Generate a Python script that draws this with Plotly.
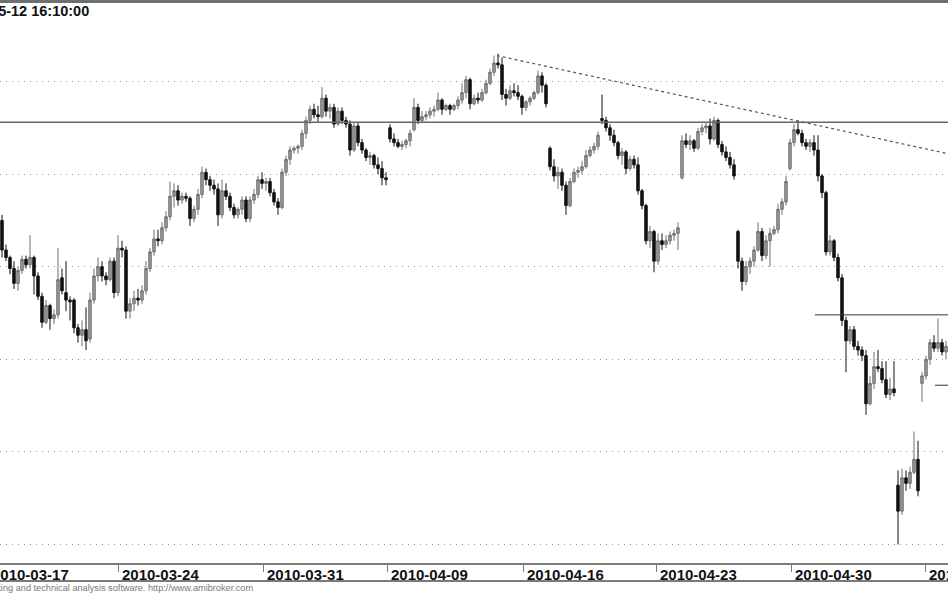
import plotly.graph_objects as go

# ---- data (hourly OHLC, price units) ----
opens = [
    2475, 2459, 2455, 2449, 2441, 2448, 2454, 2451, 2455, 2445,
    2434, 2420, 2429, 2422, 2424, 2444, 2436, 2432, 2432, 2417,
    2413, 2416, 2411, 2432, 2445, 2450, 2445, 2443, 2453, 2436,
    2460, 2459, 2426, 2430, 2433, 2432, 2437, 2449, 2458, 2465,
    2464, 2471, 2477, 2488, 2491, 2486, 2488, 2487, 2476, 2481,
    2489, 2501, 2497, 2494, 2492, 2478, 2491, 2488, 2482, 2478,
    2481, 2486, 2476, 2486, 2489, 2497, 2495, 2496, 2490, 2485,
    2482, 2501, 2508, 2513, 2514, 2515, 2522, 2529, 2535, 2532,
    2531, 2541, 2534, 2536, 2527, 2534, 2529, 2527, 2513, 2526,
    2517, 2513, 2509, 2510, 2505, 2503, 2498, 2525, 2519, 2517,
    2515, 2516, 2518, 2524, 2536, 2529, 2531, 2532, 2534, 2535,
    2540, 2535, 2537, 2535, 2537, 2540, 2544, 2551, 2538, 2541,
    2540, 2544, 2549, 2555, 2560, 2559, 2543, 2541, 2545, 2544,
    2542, 2536, 2539, 2541, 2544, 2553, 2548, 2514, 2504, 2499,
    2501, 2494, 2483, 2496, 2501, 2502, 2504, 2510, 2513, 2515,
    2530, 2529, 2525, 2521, 2517, 2510, 2512, 2503, 2508, 2505,
    2491, 2483, 2464, 2469, 2453, 2464, 2462, 2464, 2467, 2468,
    2498, 2518, 2516, 2518, 2514, 2523, 2525, 2526, 2519, 2529,
    2516, 2512, 2509, 2505, 2469, 2453, 2442, 2450, 2453, 2459,
    2469, 2456, 2464, 2468, 2470, 2481, 2485, 2503, 2517, 2524,
    2522, 2517, 2515, 2517, 2513, 2499, 2490, 2458, 2464, 2455,
    2444, 2421, 2410, 2416, 2407, 2405, 2402, 2376, 2387, 2396,
    2395, 2389, 2381, 2384, 2332, 2318, 2336, 2333, 2339, 2346,
    2387, 2391, 2400, 2409, 2406, 2409, 2404,
]
highs = [
    2478, 2462, 2456, 2453, 2450, 2456, 2456, 2467, 2456, 2447,
    2436, 2432, 2430, 2427, 2460, 2449, 2453, 2434, 2433, 2419,
    2421, 2428, 2436, 2449, 2455, 2453, 2447, 2455, 2455, 2467,
    2464, 2461, 2433, 2437, 2438, 2440, 2453, 2460, 2470, 2470,
    2474, 2480, 2496, 2495, 2494, 2490, 2490, 2488, 2483, 2492,
    2504, 2503, 2499, 2497, 2495, 2497, 2495, 2490, 2484, 2482,
    2488, 2488, 2488, 2492, 2499, 2501, 2498, 2498, 2492, 2487,
    2503, 2510, 2515, 2515, 2516, 2524, 2531, 2537, 2538, 2537,
    2547, 2543, 2538, 2538, 2536, 2536, 2531, 2529, 2528, 2528,
    2519, 2514, 2512, 2511, 2509, 2507, 2501, 2527, 2522, 2519,
    2518, 2519, 2524, 2541, 2538, 2534, 2534, 2536, 2537, 2544,
    2541, 2538, 2538, 2538, 2542, 2549, 2553, 2552, 2543, 2544,
    2546, 2551, 2557, 2564, 2565, 2563, 2546, 2548, 2549, 2548,
    2543, 2540, 2542, 2545, 2556, 2555, 2549, 2515, 2508, 2504,
    2503, 2496, 2498, 2503, 2504, 2507, 2513, 2515, 2517, 2523,
    2543, 2531, 2527, 2524, 2518, 2514, 2513, 2510, 2510, 2509,
    2492, 2484, 2472, 2470, 2468, 2468, 2467, 2469, 2470, 2474,
    2521, 2522, 2521, 2519, 2525, 2527, 2528, 2530, 2531, 2530,
    2518, 2515, 2512, 2508, 2470, 2455, 2453, 2455, 2461, 2474,
    2471, 2467, 2471, 2472, 2484, 2487, 2499, 2519, 2527, 2529,
    2524, 2519, 2519, 2521, 2521, 2500, 2491, 2467, 2465, 2457,
    2446, 2423, 2418, 2418, 2410, 2407, 2405, 2391, 2404, 2405,
    2399, 2399, 2390, 2399, 2340, 2341, 2340, 2342, 2361, 2356,
    2393, 2402, 2411, 2413, 2422, 2411, 2410,
]
lows = [
    2455, 2453, 2446, 2438, 2437, 2446, 2449, 2449, 2435, 2432,
    2417, 2419, 2416, 2419, 2422, 2435, 2426, 2421, 2414, 2409,
    2407, 2405, 2409, 2430, 2442, 2442, 2440, 2442, 2433, 2434,
    2455, 2422, 2422, 2426, 2429, 2430, 2435, 2447, 2456, 2461,
    2462, 2469, 2475, 2482, 2483, 2484, 2485, 2472, 2474, 2478,
    2487, 2494, 2491, 2489, 2472, 2476, 2486, 2480, 2476, 2476,
    2478, 2474, 2474, 2484, 2487, 2492, 2491, 2488, 2483, 2478,
    2481, 2499, 2505, 2511, 2511, 2513, 2519, 2527, 2530, 2528,
    2530, 2531, 2530, 2525, 2526, 2527, 2525, 2510, 2512, 2515,
    2511, 2507, 2505, 2503, 2500, 2494, 2494, 2517, 2515, 2514,
    2513, 2514, 2515, 2523, 2527, 2528, 2529, 2530, 2531, 2534,
    2532, 2534, 2532, 2534, 2535, 2538, 2541, 2535, 2537, 2538,
    2539, 2543, 2548, 2553, 2557, 2540, 2537, 2540, 2542, 2540,
    2532, 2534, 2537, 2540, 2543, 2544, 2536, 2502, 2496, 2492,
    2491, 2478, 2482, 2495, 2498, 2500, 2503, 2509, 2511, 2513,
    2527, 2523, 2518, 2515, 2508, 2505, 2500, 2502, 2503, 2489,
    2481, 2462, 2460, 2447, 2451, 2459, 2460, 2462, 2464, 2459,
    2497, 2514, 2513, 2512, 2513, 2521, 2522, 2516, 2518, 2514,
    2510, 2507, 2503, 2497, 2449, 2437, 2440, 2446, 2450, 2458,
    2453, 2454, 2450, 2467, 2468, 2478, 2483, 2502, 2515, 2521,
    2515, 2513, 2512, 2510, 2496, 2487, 2456, 2456, 2453, 2442,
    2418, 2393, 2408, 2405, 2402, 2399, 2370, 2375, 2384, 2393,
    2387, 2379, 2378, 2380, 2300, 2316, 2329, 2330, 2338, 2326,
    2377, 2389, 2397, 2404, 2404, 2402, 2400,
]
closes = [
    2459, 2455, 2449, 2441, 2448, 2454, 2451, 2455, 2445, 2434,
    2420, 2429, 2422, 2424, 2443, 2437, 2432, 2431, 2417, 2413,
    2416, 2410, 2432, 2445, 2450, 2445, 2443, 2453, 2436, 2460,
    2459, 2426, 2430, 2433, 2432, 2437, 2449, 2458, 2465, 2464,
    2471, 2477, 2488, 2491, 2486, 2488, 2487, 2476, 2481, 2489,
    2501, 2497, 2494, 2492, 2478, 2491, 2488, 2482, 2478, 2481,
    2486, 2476, 2486, 2489, 2497, 2495, 2496, 2490, 2485, 2482,
    2501, 2508, 2513, 2514, 2515, 2522, 2529, 2535, 2532, 2531,
    2541, 2534, 2536, 2527, 2534, 2529, 2527, 2513, 2526, 2517,
    2513, 2509, 2510, 2505, 2503, 2498, 2497, 2519, 2517, 2515,
    2516, 2518, 2522, 2536, 2529, 2531, 2532, 2534, 2535, 2540,
    2535, 2537, 2535, 2537, 2540, 2544, 2551, 2538, 2541, 2540,
    2544, 2549, 2555, 2560, 2559, 2543, 2541, 2545, 2544, 2542,
    2536, 2539, 2541, 2544, 2553, 2548, 2538, 2504, 2499, 2501,
    2494, 2483, 2496, 2501, 2502, 2504, 2510, 2513, 2515, 2521,
    2529, 2525, 2521, 2517, 2510, 2512, 2503, 2508, 2505, 2491,
    2483, 2464, 2469, 2453, 2464, 2462, 2464, 2467, 2468, 2471,
    2518, 2516, 2518, 2514, 2523, 2525, 2526, 2519, 2529, 2516,
    2512, 2509, 2505, 2499, 2453, 2442, 2450, 2453, 2459, 2469,
    2456, 2464, 2468, 2470, 2481, 2485, 2496, 2517, 2524, 2522,
    2517, 2515, 2517, 2513, 2499, 2490, 2458, 2464, 2455, 2444,
    2421, 2410, 2416, 2407, 2405, 2402, 2376, 2387, 2396, 2395,
    2389, 2381, 2384, 2382, 2318, 2336, 2333, 2339, 2346, 2329,
    2391, 2400, 2409, 2406, 2409, 2404, 2407,
]

# date labels and the bar positions where each new week starts
tick_labels = ["2010-03-17", "2010-03-24", "2010-03-31", "2010-04-09",
               "2010-04-16", "2010-04-23", "2010-04-30", "2010-05-07"]
tick_positions = [-3.5, 29, 65.25, 96.25, 130.25, 163.5, 197.25, 230.75]

# drawn study lines (bar index, price)
resistance_level = 2528
trend_start = (123.75, 2564)
trend_end = (236.5, 2511)
support_level = 2424
support_start = 203.25
short_level = 2386
short_start = 233.25

title_text = "2010-05-12 16:10:00"
footer_text = "AmiBroker - advanced charting and technical analysis software. http://www.amibroker.com"

# ---- figure ----
n = len(closes)
xs = list(range(n))
X0, X1 = -0.5, n - 0.5
W, H = 948, 593
T, B = 3, 30
plot_h = H - T - B

fig = go.Figure(go.Candlestick(
    x=xs, open=opens, high=highs, low=lows, close=closes,
    increasing=dict(line=dict(color="#6e6e6e", width=1), fillcolor="#9c9c9c"),
    decreasing=dict(line=dict(color="#111111", width=1), fillcolor="#111111"),
    showlegend=False, hoverinfo="skip",
))

font_main = "Liberation Sans, Arial, sans-serif"

shapes = [
    dict(type="line", xref="paper", yref="y", x0=0, x1=1,
         y0=resistance_level, y1=resistance_level,
         line=dict(color="#666666", width=1.5)),
    dict(type="line", xref="x", yref="y", x0=trend_start[0], y0=trend_start[1],
         x1=trend_end[0], y1=trend_end[1],
         line=dict(color="#555555", width=1.2, dash="3px,3px")),
    dict(type="line", xref="x", yref="y", x0=support_start, x1=X1,
         y0=support_level, y1=support_level,
         line=dict(color="#333333", width=1)),
    dict(type="line", xref="x", yref="y", x0=short_start, x1=X1,
         y0=short_level, y1=short_level,
         line=dict(color="#333333", width=1)),
    dict(type="line", xref="paper", yref="paper", x0=0, x1=1,
         y0=1 + 1.5 / plot_h, y1=1 + 1.5 / plot_h,
         line=dict(color="#6f6f6f", width=3)),
    dict(type="line", xref="paper", yref="paper", x0=0, x1=1,
         y0=-18 / plot_h, y1=-18 / plot_h,
         line=dict(color="#7a7a7a", width=2)),
]

annotations = []
for lab, pos in zip(tick_labels, tick_positions):
    annotations.append(dict(
        text=lab, xref="paper", yref="paper",
        x=(pos - X0) / (X1 - X0), y=0, xanchor="left", yanchor="top",
        xshift=2, yshift=-1, showarrow=False,
        font=dict(family=font_main, size=15, color="#111111", weight="bold"),
    ))
annotations.append(dict(
    text=title_text, xref="paper", yref="paper",
    x=91 / W, y=(plot_h - 8) / plot_h, xanchor="right", yanchor="middle",
    showarrow=False,
    font=dict(family=font_main, size=14.5, color="#111111", weight="bold"),
))
annotations.append(dict(
    text=footer_text, xref="paper", yref="paper",
    x=255 / W, y=-25 / plot_h, xanchor="right", yanchor="middle",
    showarrow=False,
    font=dict(family=font_main, size=9.2, color="#777777"),
))

fig.update_layout(
    width=W, height=H,
    margin=dict(l=0, r=0, t=T, b=B, pad=0),
    paper_bgcolor="white", plot_bgcolor="white",
    shapes=shapes, annotations=annotations,
    showlegend=False,
    boxgap=0.12,
    xaxis=dict(
        range=[X0, X1], rangeslider=dict(visible=False),
        showgrid=False, zeroline=False,
        tickvals=tick_positions, ticktext=[""] * len(tick_positions),
        ticks="outside", ticklen=7, tickwidth=1, tickcolor="#777777",
        showline=True, linecolor="#7a7a7a", linewidth=2,
        fixedrange=True,
    ),
    yaxis=dict(
        range=[2290, 2592.4], showticklabels=False, ticks="",
        tick0=2300, dtick=50,
        showgrid=True, gridcolor="#9a9a9a", gridwidth=1, griddash="1px,5px",
        zeroline=False, showline=False, fixedrange=True,
    ),
)

fig.write_html(
    "out.html",
    config={"displayModeBar": False},
    post_script="document.body.style.margin='0';document.body.style.overflow='hidden';",
)
